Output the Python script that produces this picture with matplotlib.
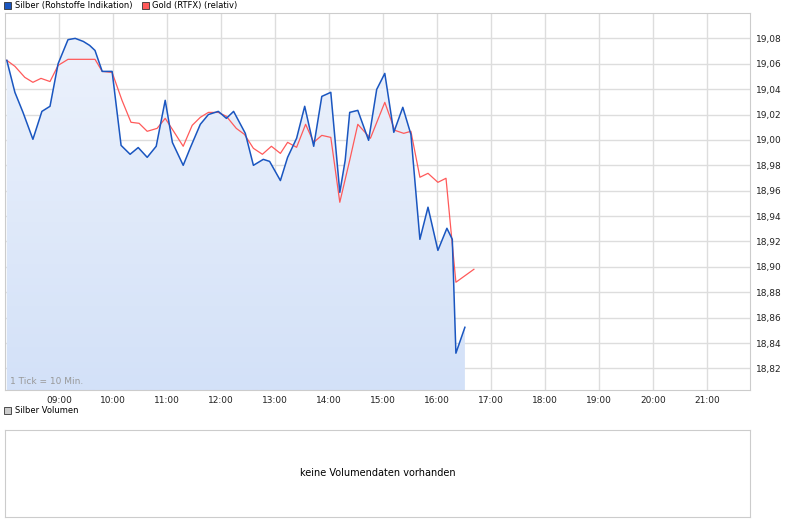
import numpy as np
import matplotlib
matplotlib.use("Agg")
import matplotlib.pyplot as plt
from matplotlib.patches import Rectangle

# minutes after 08:00 and prices
silber_min = [2, 11, 20, 31, 41, 50, 59, 70, 78, 87, 94, 100, 108, 119, 129, 139, 148, 158, 168, 178,
              186, 198, 206, 217, 226, 237, 246, 254, 267, 276, 287, 294, 306, 314, 324, 333, 343, 352,
              362, 372, 378, 383, 392, 404, 413, 422, 432, 442, 451, 461, 470, 481, 491, 497, 501, 511]
silber = [19.0627, 19.0375, 19.0217, 19.0005, 19.0225, 19.0265, 19.060, 19.079, 19.080, 19.0776, 19.0745,
          19.0705, 19.054, 19.054, 18.9957, 18.9887, 18.994, 18.9863, 18.995, 19.0312, 18.998, 18.980,
          18.994, 19.0123, 19.020, 19.0225, 19.017, 19.0225, 19.0052, 18.980, 18.9847, 18.9831, 18.968,
          18.9863, 19.0013, 19.0265, 18.995, 19.0343, 19.0375, 18.9587, 18.984, 19.0217, 19.0233,
          18.9997, 19.0398, 19.0524, 19.006, 19.0257, 19.0044, 18.9217, 18.947, 18.913, 18.9304,
          18.9217, 18.832, 18.8524]

gold_min = [2, 11, 22, 31, 40, 50, 59, 70, 100, 108, 119, 130, 140, 149, 158, 169, 178, 186, 198, 208,
            217, 226, 237, 246, 257, 266, 276, 286, 296, 306, 314, 324, 334, 343, 352, 362, 372, 383,
            392, 406, 422, 433, 443, 451, 461, 470, 481, 490, 501, 521]
gold = [19.0627, 19.058, 19.0493, 19.0454, 19.0485, 19.046, 19.0587, 19.0635, 19.0635, 19.054, 19.0532,
        19.0312, 19.0139, 19.0131, 19.0068, 19.0091, 19.017, 19.0083, 18.995, 19.0115, 19.0178, 19.0217,
        19.0217, 19.0186, 19.0091, 19.0044, 18.9934, 18.9887, 18.995, 18.9894, 18.9981, 18.9942, 19.0123,
        18.9981, 19.0036, 19.002, 18.9509, 18.984, 19.0123, 19.0013, 19.0296, 19.0076, 19.0052, 19.0068,
        18.9706, 18.9737, 18.9666, 18.9698, 18.8879, 18.8981]

hour_labels = ["09:00", "10:00", "11:00", "12:00", "13:00", "14:00", "15:00", "16:00",
               "17:00", "18:00", "19:00", "20:00", "21:00"]
y_ticks = [18.82, 18.84, 18.86, 18.88, 18.90, 18.92, 18.94, 18.96, 18.98, 19.00,
           19.02, 19.04, 19.06, 19.08]

W, H = 792, 526
fig = plt.figure(figsize=(W / 100, H / 100), dpi=100)
fig.patch.set_facecolor("white")
ax = fig.add_axes([5 / W, 1 - 390 / H, 745 / W, 377 / H])
ymin, ymax = 18.803, 19.100
xmax = 745 / 54 * 60
ax.set_xlim(0, xmax)
ax.set_ylim(ymin, ymax)

sx = np.array(silber_min, float)
sy = np.array(silber)
poly = ax.fill_between(sx, sy, ymin, color="none")
grad = np.linspace(0, 1, 256).reshape(-1, 1)
img = ax.imshow(grad, extent=[0, xmax, ymin, ymax], origin="upper", aspect="auto",
                cmap=matplotlib.colors.LinearSegmentedColormap.from_list("g", ["#eef3fc", "#d3e1f8"]),
                zorder=1)
img.set_clip_path(poly.get_paths()[0], transform=ax.transData)

ax.plot(gold_min, gold, color="#ff5a5a", lw=0.9, zorder=3)
ax.plot(sx, sy, color="#1a56c0", lw=1.1, zorder=4)

ax.set_xticks([60 * (i + 1) for i in range(len(hour_labels))])
ax.set_xticklabels(hour_labels)
ax.set_yticks(y_ticks)
ax.set_yticklabels([f"{v:.2f}".replace(".", ",") for v in y_ticks])
ax.yaxis.tick_right()
ax.tick_params(length=0, labelsize=6.5, colors="#222222", pad=4)
ax.grid(color="#dddddd", lw=1)
ax.set_axisbelow(True)
for s in ax.spines.values():
    s.set_color("#cccccc")
ax.text(6, 18.808, "1 Tick = 10 Min.", fontsize=6.5, color="#999999", zorder=5)

# legend
fig.patches.append(Rectangle((4 / W, 1 - 9 / H), 7 / W, 7 / H, transform=fig.transFigure,
                             facecolor="#1a56c0", edgecolor="#333333", lw=0.6))
fig.text(15 / W, 1 - 5.5 / H, "Silber (Rohstoffe Indikation)", fontsize=6, va="center")
fig.patches.append(Rectangle((142 / W, 1 - 9 / H), 7 / W, 7 / H, transform=fig.transFigure,
                             facecolor="#ff5a5a", edgecolor="#333333", lw=0.6))
fig.text(152 / W, 1 - 5.5 / H, "Gold (RTFX) (relativ)", fontsize=6, va="center")
fig.patches.append(Rectangle((4 / W, 1 - 414 / H), 7 / W, 7 / H, transform=fig.transFigure,
                             facecolor="#cccccc", edgecolor="#333333", lw=0.6))
fig.text(15 / W, 1 - 410.5 / H, "Silber Volumen", fontsize=6, va="center")

vax = fig.add_axes([5 / W, 1 - 517 / H, 745 / W, 87 / H])
vax.set_xticks([])
vax.set_yticks([])
for s in vax.spines.values():
    s.set_color("#cccccc")
vax.text(0.5, 0.5, "keine Volumendaten vorhanden", ha="center", va="center",
         fontsize=7, transform=vax.transAxes)

fig.savefig("out.png", dpi=100)
